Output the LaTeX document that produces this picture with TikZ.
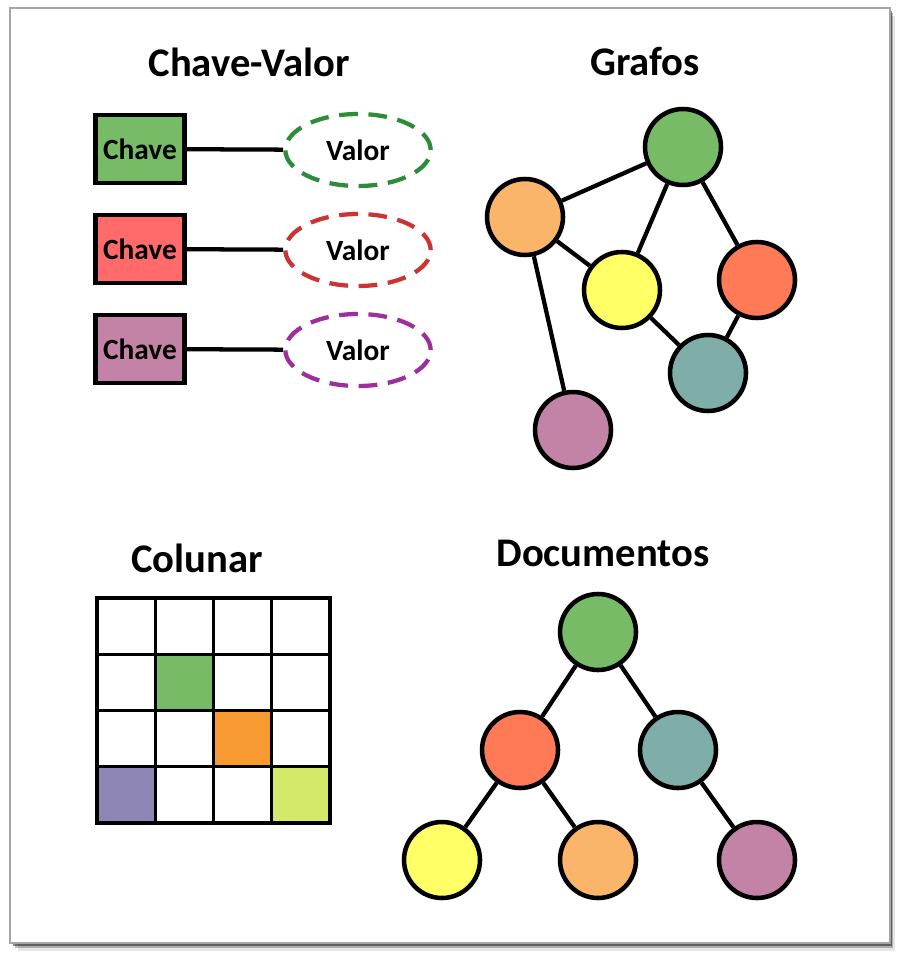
\documentclass[tikz,border=0pt]{standalone}
\usepackage{fontspec}
\setmainfont{Carlito}
\usetikzlibrary{shapes.geometric}
\definecolor{cgreen}{HTML}{77BB66}
\definecolor{corange}{HTML}{FBB56B}
\definecolor{cyellow}{HTML}{FFFF66}
\definecolor{cred}{HTML}{FF7A57}
\definecolor{cteal}{HTML}{7FAEA8}
\definecolor{cpurple}{HTML}{C283A6}
\definecolor{kred}{HTML}{FF6B6B}
\definecolor{dgreen}{HTML}{2E8B3A}
\definecolor{dred}{HTML}{CC3333}
\definecolor{dpurple}{HTML}{9B2F9B}
\definecolor{gorange}{HTML}{F79A32}
\definecolor{glilac}{HTML}{8E86B5}
\definecolor{glime}{HTML}{D4E86A}
\begin{document}
\begin{tikzpicture}
            [x=0.75pt,y=-0.75pt,
             title/.style ={font=\bfseries\fontsize{30.5}{36}\selectfont},
             key/.style ={draw,line width=3.4pt,minimum width=67pt,minimum height=51pt,inner sep=0pt,font=\bfseries\fontsize{22}{26}\selectfont},
             val/.style ={ellipse,draw,line width=3.2pt,dash pattern=on 14pt off 8pt,minimum width=109pt,minimum height=54pt,inner sep=0pt,font=\bfseries\fontsize{22}{26}\selectfont},
             main/.style ={draw,circle,line width=3.4pt,minimum size=57pt,inner sep=0pt},
             link/.style ={line width=3.2pt}]
            \useasboundingbox (0,0) rectangle (900,959);
            % frame with shadow
            \foreach \s/\o in {8/10,5/25,3/45}
                \fill[black,opacity=\o/100] (10+\s,8+\s) rectangle (890+\s*0.6,943+\s);
            \draw[gray!70,line width=1.2pt,fill=white] (10,8) rectangle (890,943);
            % chave-valor
            \node[title] (tkv) at (249,62) {Chave-Valor};
            \node[key,fill=cgreen] (k1) at (140,149) {Chave};
            \node[key,fill=kred] (k2) at (140,249) {Chave};
            \node[key,fill=cpurple] (k3) at (140,349) {Chave};
            \node[val,draw=dgreen] (v1) at (358,150) {Valor};
            \node[val,draw=dred] (v2) at (358,250) {Valor};
            \node[val,draw=dpurple] (v3) at (358,350) {Valor};
            \draw[link] (k1) -- (v1);
            \draw[link] (k2) -- (v2);
            \draw[link] (k3) -- (v3);
            % grafos
            \node[title] (tg) at (645,62) {Grafos};
            \node[main,fill=cgreen] (g1) at (683,147) {};
            \node[main,fill=corange] (g2) at (525,217) {};
            \node[main,fill=cyellow] (g3) at (622,290) {};
            \node[main,fill=cred] (g4) at (757,280) {};
            \node[main,fill=cteal] (g5) at (708,373) {};
            \node[main,fill=cpurple] (g6) at (573,430) {};
            \draw[link] (g1) -- (g2);
            \draw[link] (g1) -- (g3);
            \draw[link] (g1) -- (g4);
            \draw[link] (g2) -- (g3);
            \draw[link] (g2) -- (g6);
            \draw[link] (g3) -- (g5);
            \draw[link] (g4) -- (g5);
            % colunar
            \node[title] (tc) at (197,558) {Colunar};
            \fill[cgreen] (155.25,654.25) rectangle +(58.25,56.25);
            \fill[gorange] (213.5,710.5) rectangle +(58.25,56.25);
            \fill[glilac] (97,766.75) rectangle +(58.25,56.25);
            \fill[glime] (271.75,766.75) rectangle +(58.25,56.25);
            \foreach \i in {0,...,4} {
                \draw[line width=2.5pt,line cap=rect] (97+\i*58.25,598) -- (97+\i*58.25,823);
                \draw[line width=2.5pt,line cap=rect] (97,598+\i*56.25) -- (330,598+\i*56.25);
            }
            % documentos
            \node[title] (td) at (603,553) {Documentos};
            \node[main,fill=cgreen] (d1) at (598,632) {};
            \node[main,fill=cred] (d2) at (520,750) {};
            \node[main,fill=cteal] (d3) at (678,750) {};
            \node[main,fill=cyellow] (d4) at (442,860) {};
            \node[main,fill=corange] (d5) at (598,860) {};
            \node[main,fill=cpurple] (d6) at (757,860) {};
            \draw[link] (d1) -- (d2);
            \draw[link] (d1) -- (d3);
            \draw[link] (d2) -- (d4);
            \draw[link] (d2) -- (d5);
            \draw[link] (d3) -- (d6);
        \end{tikzpicture}
\end{document}
